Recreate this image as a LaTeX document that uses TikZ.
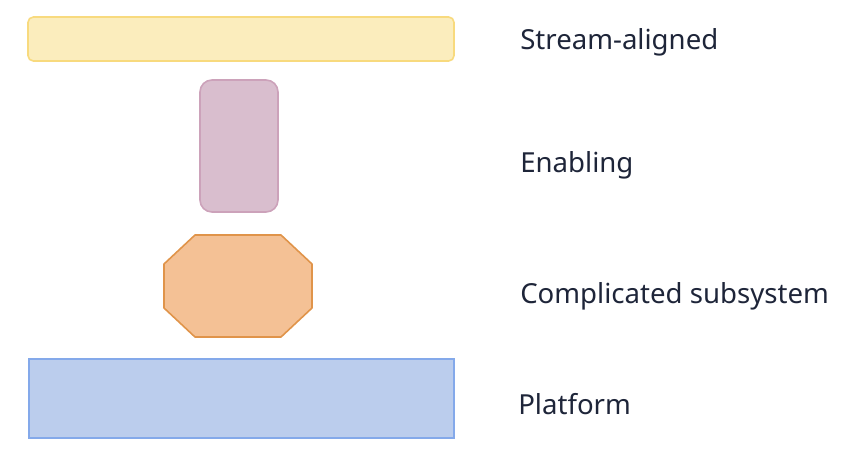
\documentclass[tikz,border=0pt]{standalone}
\usepackage{fontspec}
\setmainfont{Noto Sans}
\definecolor{streamfill}{HTML}{FBEDBD}
\definecolor{streamline}{HTML}{F8DA7E}
\definecolor{enablefill}{HTML}{D9BECE}
\definecolor{enableline}{HTML}{CCA2BA}
\definecolor{complexfill}{HTML}{F4C195}
\definecolor{complexline}{HTML}{E0944A}
\definecolor{platformfill}{HTML}{BBCDED}
\definecolor{platformline}{HTML}{84A9EA}
\definecolor{labeltext}{HTML}{1E2539}
\begin{document}
\begin{tikzpicture}[x=0.75pt, y=-0.75pt,
    team/.style={line width=1.2pt, inner sep=0pt, outer sep=0pt},
    teamlabel/.style={anchor=base west, inner sep=0pt, text=labeltext,
        font=\fontsize{20.7}{24}\selectfont}]
        \useasboundingbox (0,0) rectangle (860,458);
        % Team types, top to bottom
        \node[team, fill=streamfill, draw=streamline, rounded corners=4pt,
            minimum width=426*0.75pt, minimum height=44*0.75pt] (stream) at (241,39) {};
        \node[team, fill=enablefill, draw=enableline, rounded corners=9pt,
            minimum width=78*0.75pt, minimum height=132*0.75pt] (enabling) at (239,146) {};
        % Octagon for the complicated subsystem
        \draw[team, fill=complexfill, draw=complexline, line join=round]
            (195,235) -- (281,235) -- (312,264) -- (312,308) -- (281,337)
            -- (195,337) -- (164,308) -- (164,264) -- cycle;
        \coordinate (complicated) at (238,286);
        \node[team, fill=platformfill, draw=platformline,
            minimum width=425*0.75pt, minimum height=79*0.75pt] (platform) at (241.5,398.5) {};

        % Labels
        \node[teamlabel] (streamlabel) at (520,49) {Stream-aligned};
        \node[teamlabel] (enablinglabel) at (520,172) {Enabling};
        \node[teamlabel] (complicatedlabel) at (520,303) {Complicated subsystem};
        \node[teamlabel] (platformlabel) at (518,414) {Platform};
    \end{tikzpicture}
\end{document}
